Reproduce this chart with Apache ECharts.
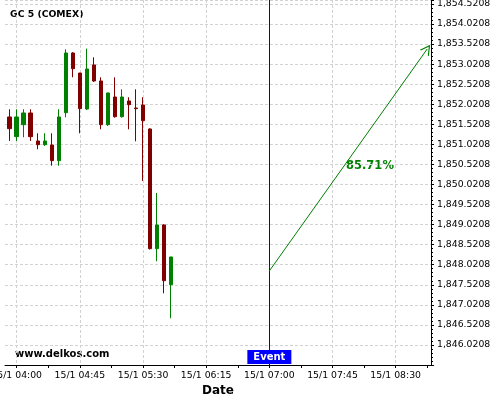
<!DOCTYPE html>
<html><head><meta charset="utf-8">
<script src="https://cdn.jsdelivr.net/npm/echarts@6/dist/echarts.min.js"></script>
<style>html,body{margin:0;padding:0;background:#fff}#c{width:500px;height:400px}</style>
</head><body><div id="c"></div>
<script>
// ---- data ----
const chartTitle = 'GC 5 (COMEX)';
const siteName = 'www.delkos.com';
const eventName = 'Event';
const percentText = '85.71%';
const axisName = 'Date';
const day = [2024, 0, 15];
const candleTimes = ['03:55','04:00','04:05','04:10','04:15','04:20','04:25','04:30','04:35','04:40','04:45','04:50',
                     '04:55','05:00','05:05','05:10','05:15','05:20','05:25','05:30','05:35','05:40','05:45','05:50'];
const opens  = [1851.704,1851.213,1851.512,1851.803,1851.106,1851.013,1851.006,1850.615,1851.811,1853.299,1852.800,1851.903,
                1853.000,1852.601,1851.512,1852.202,1851.711,1852.103,1851.928,1852.003,1851.405,1848.421,1849.012,1847.524];
const closes = [1851.412,1851.704,1851.803,1851.213,1851.013,1851.106,1850.615,1851.704,1853.299,1852.908,1851.911,1852.900,
                1852.601,1851.512,1852.302,1851.711,1852.202,1852.010,1851.911,1851.612,1848.421,1849.012,1847.623,1848.214];
const lows   = [1851.106,1851.106,1851.198,1851.106,1850.899,1850.981,1850.490,1850.490,1851.696,1852.693,1851.298,1851.878,
                1852.576,1851.397,1851.479,1851.686,1851.686,1851.397,1851.098,1850.109,1848.400,1848.107,1847.309,1846.686];
const highs  = [1851.896,1851.896,1851.896,1851.896,1851.298,1851.298,1851.298,1851.896,1853.391,1853.320,1852.800,1853.406,
                1853.192,1852.693,1852.310,1852.693,1852.394,1852.195,1852.394,1852.195,1851.420,1849.809,1849.030,1848.214];
const xLabelTimes = ['04:00','04:45','05:30','06:15','07:00','07:45','08:30'];
const xTickTimes  = ['04:00','04:22:30','04:45','05:07:30','05:30','05:52:30','06:15','06:37:30','07:00','07:22:30',
                     '07:45','08:07:30','08:30','08:52:30'];
const xRange = ['03:51:40','08:55:10'];
const yMin = 1845.5208, yMax = 1854.62, yStep = 0.5;
const eventTime = '07:00';
const arrowTimes = ['07:00','08:52:30'];
const arrowValues = [1847.865, 1853.40];

// ---- helpers ----
function t(s){ const p = s.split(':').map(Number); return new Date(day[0], day[1], day[2], p[0], p[1], p[2]||0).getTime(); }
function pad(n){ return (n<10?'0':'')+n; }
function fmtPrice(v){
  const k = Math.round((v - yMin) / yStep);
  const s = (yMin + k * yStep).toFixed(4).split('.');
  return s[0].replace(/\B(?=(\d{3})+(?!\d))/g, ',') + '.' + s[1];
}

const candleData = candleTimes.map((c,i)=>[t(c), opens[i], closes[i], lows[i], highs[i]]);
const FONT = 'DejaVu Sans';
const gridLine = {show:true, lineStyle:{color:'#d2d2d2', type:[3,2], width:1}};

const chart = echarts.init(document.getElementById('c'), null, {renderer:'canvas'});
chart.setOption({
  animation:false,
  backgroundColor:'#ffffff',
  grid:{left:5, right:69, top:0, bottom:35, containLabel:false, outerBoundsMode:'none'},
  xAxis:[{
    type:'value', min:t(xRange[0]), max:t(xRange[1]), position:'bottom',
    name:axisName, nameLocation:'middle', nameGap:18,
    nameTextStyle:{fontFamily:FONT, fontWeight:'bold', fontSize:12, color:'#000'},
    axisLine:{show:true, onZero:false, lineStyle:{color:'#000', width:1}},
    axisTick:{show:true, length:3, lineStyle:{color:'#000'}, customValues:xTickTimes.map(t)},
    axisLabel:{show:true, margin:6, fontFamily:FONT, fontSize:9.3, color:'#000',
      customValues:xLabelTimes.map(t),
      formatter:function(v){ const d=new Date(v); return d.getDate()+'/'+(d.getMonth()+1)+' '+pad(d.getHours())+':'+pad(d.getMinutes()); }},
    splitLine:{show:false}
  },{
    type:'value', min:t(xRange[0]), max:t(xRange[1]), position:'bottom',
    axisLine:{show:false, onZero:false}, axisLabel:{show:false},
    axisTick:{show:false, customValues:xLabelTimes.map(t)},
    splitLine:gridLine
  }],
  yAxis:{
    type:'value', position:'right', min:yMin, max:yMax, interval:yStep, scale:true,
    axisLine:{show:true, lineStyle:{color:'#000', width:1}},
    axisTick:{show:true, inside:false, length:3, lineStyle:{color:'#000'}},
    minorTick:{show:true, splitNumber:5, length:2, lineStyle:{color:'#000'}},
    axisLabel:{show:true, margin:6, fontFamily:FONT, fontSize:9.3, color:'#000',
      showMinLabel:false, showMaxLabel:false, formatter:fmtPrice},
    splitLine:gridLine
  },
  series:[{
    type:'candlestick', xAxisIndex:0, yAxisIndex:0, barWidth:4,
    encode:{x:0, y:[1,2,3,4]},
    data:candleData,
    itemStyle:{color:'#008000', color0:'#800000', borderColor:'#008000', borderColor0:'#800000', borderWidth:1},
    markLine:{
      silent:true, animation:false,
      label:{show:false},
      data:[
        [{coord:[t(eventTime), yMin], symbol:'none', lineStyle:{color:'#0000dd', width:1, type:'solid'}},
         {coord:[t(eventTime), yMax], symbol:'none'}],
        [{coord:[t(arrowTimes[0]), arrowValues[0]], symbol:'none', lineStyle:{color:'#008000', width:1, type:'solid'}},
         {coord:[t(arrowTimes[1]), arrowValues[1]], symbol:'path://M0,10 L5,0 L10,10 L8.8,10 L5,2.4 L1.2,10 Z', symbolSize:[11,10]}]
      ]
    },
    markPoint:{
      silent:true, animation:false,
      data:[{coord:[t(eventTime), yMin], symbol:'rect', symbolSize:[44,14], symbolOffset:[0,-8],
        itemStyle:{color:'#0000ff'},
        label:{show:true, position:'inside', formatter:eventName, color:'#fff', fontFamily:FONT, fontWeight:'bold', fontSize:10}}]
    }
  }],
  graphic:[
    {type:'text', left:10, top:10, style:{text:chartTitle, font:'bold 9.3px "DejaVu Sans"', fill:'#000'}},
    {type:'text', left:15, top:349, style:{text:siteName, font:'bold 10px "DejaVu Sans"', fill:'#000'}},
    {type:'text', left:346, top:160, style:{text:percentText, font:'bold 11.5px "DejaVu Sans"', fill:'#008000'}}
  ]
});
</script></body></html>
